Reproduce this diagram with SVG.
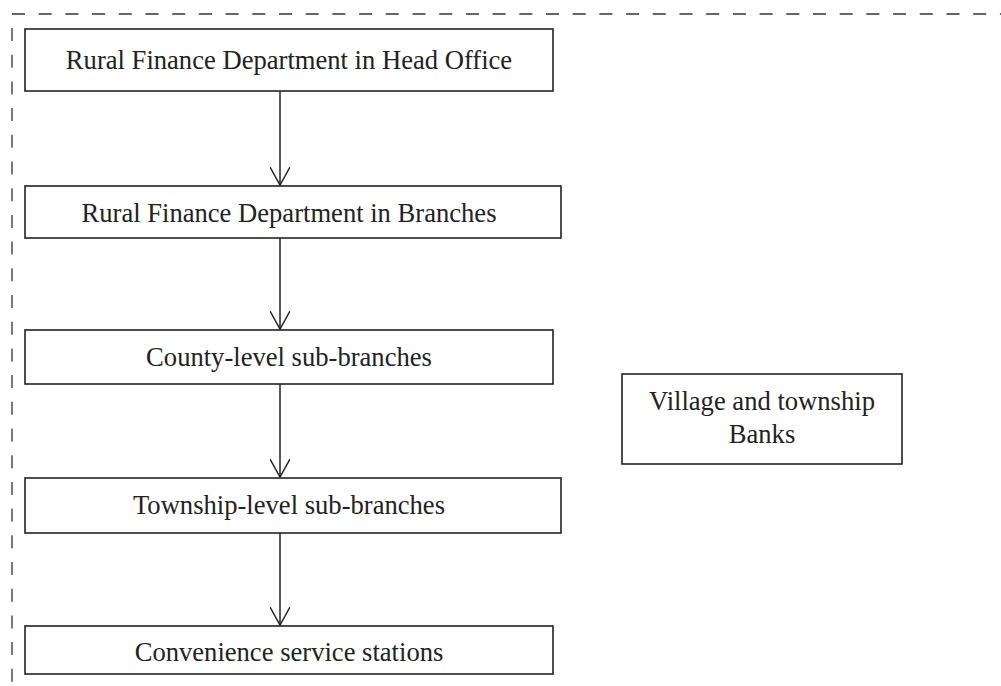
<svg xmlns="http://www.w3.org/2000/svg" width="1001" height="686" viewBox="0 0 1001 686">
<defs>
<style>
.box{fill:#fff;stroke:#222;stroke-width:1.6}
.t{font-family:"Liberation Serif","Times New Roman",serif;font-size:26.6px;fill:#222;text-anchor:middle}
.dash{stroke:#333;stroke-width:1.3;stroke-dasharray:13 13.7;fill:none}
.edge{stroke:#222;stroke-width:1.5;fill:none}
</style>
<marker id="arr" viewBox="0 0 20 20" refX="19" refY="10" markerWidth="20" markerHeight="20" markerUnits="userSpaceOnUse" orient="auto">
<path d="M1,0 L19,10 L1,20" fill="none" stroke="#222" stroke-width="1.5"/>
</marker>
</defs>
<rect width="1001" height="686" fill="#fff"/>
<g id="frame">
<line class="dash" x1="12" y1="14" x2="1001" y2="14"/>
<line class="dash" x1="12" y1="28" x2="12" y2="686"/>
</g>
<g id="connectors">
<line class="edge" x1="280" y1="91" x2="280" y2="185" marker-end="url(#arr)"/>
<line class="edge" x1="280" y1="238" x2="280" y2="329" marker-end="url(#arr)"/>
<line class="edge" x1="280" y1="384" x2="280" y2="477" marker-end="url(#arr)"/>
<line class="edge" x1="280" y1="533" x2="280" y2="625" marker-end="url(#arr)"/>
</g>
<g id="n1"><rect class="box" x="25" y="29" width="528" height="62"/><text class="t" x="289" y="69">Rural Finance Department in Head Office</text></g>
<g id="n2"><rect class="box" x="25" y="186" width="536" height="52"/><text class="t" x="289" y="222">Rural Finance Department in Branches</text></g>
<g id="n3"><rect class="box" x="25" y="330" width="528" height="54"/><text class="t" x="289" y="366">County-level sub-branches</text></g>
<g id="n4"><rect class="box" x="25" y="478" width="536" height="55"/><text class="t" x="289" y="514">Township-level sub-branches</text></g>
<g id="n5"><rect class="box" x="25" y="626" width="528" height="48"/><text class="t" x="289" y="661">Convenience service stations</text></g>
<g id="n6"><rect class="box" x="622" y="374" width="280" height="90"/><text class="t" x="762" y="410">Village and township</text><text class="t" x="762" y="443">Banks</text></g>
</svg>
